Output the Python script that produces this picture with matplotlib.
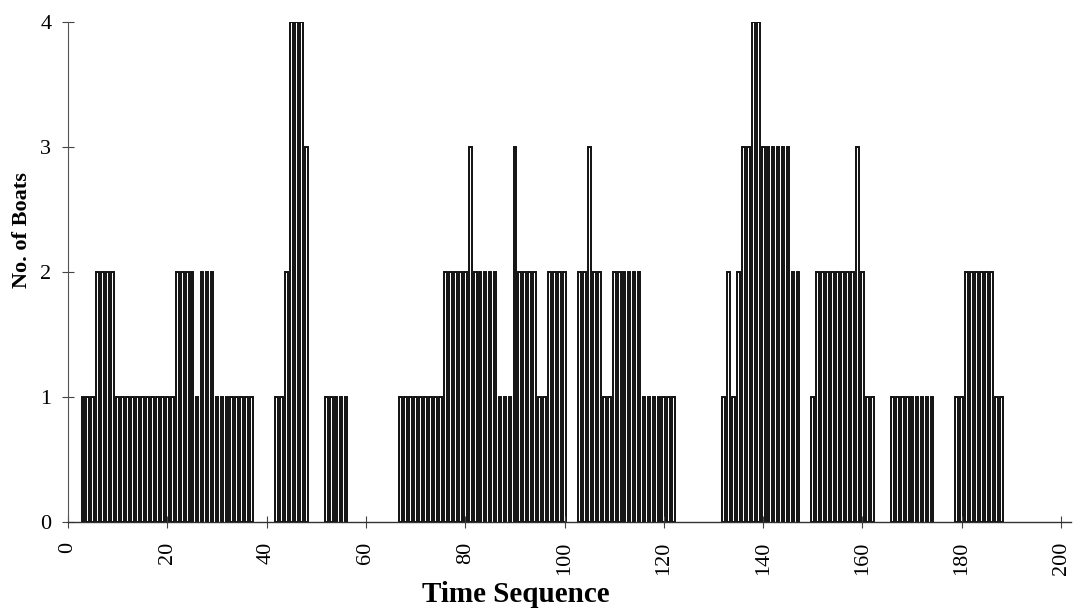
import numpy as np
import matplotlib as mpl
mpl.use('Agg')
import matplotlib.pyplot as plt

# number of boats in each time step (steps not listed are 0)
group_times = [
    list(range(3, 38)),
    list(range(42, 49)),
    list(range(52, 57)),
    list(range(67, 101)),
    list(range(103, 123)),
    list(range(132, 148)),
    list(range(150, 163)),
    list(range(166, 175)),
    list(range(179, 189)),
]
group_boats = [
    [1, 1, 1, 2, 2, 2, 2, 1, 1, 1, 1, 1, 1, 1, 1, 1, 1, 1, 1, 2, 2, 2, 2, 1, 2, 2, 2, 1, 1, 1, 1, 1, 1, 1, 1],
    [1, 1, 2, 4, 4, 4, 3],
    [1, 1, 1, 1, 1],
    [1, 1, 1, 1, 1, 1, 1, 1, 1, 2, 2, 2, 2, 2, 3, 2, 2, 2, 2, 2, 1, 1, 1, 3, 2, 2, 2, 2, 1, 1, 2, 2, 2, 2],
    [2, 2, 3, 2, 2, 1, 1, 2, 2, 2, 2, 2, 2, 1, 1, 1, 1, 1, 1, 1],
    [1, 2, 1, 2, 3, 3, 4, 4, 3, 3, 3, 3, 3, 3, 2, 2],
    [1, 2, 2, 2, 2, 2, 2, 2, 2, 3, 2, 1, 1],
    [1, 1, 1, 1, 1, 1, 1, 1, 1],
    [1, 1, 2, 2, 2, 2, 2, 2, 1, 1],
]
x_ticks = list(range(0, 201, 20))
y_ticks = [0, 1, 2, 3, 4]

time = np.concatenate([np.array(t) for t in group_times])
boats = np.concatenate([np.array(b) for b in group_boats])

plt.rcParams['font.family'] = ['Liberation Serif', 'DejaVu Serif']

fig = plt.figure(figsize=(10.79, 6.09), dpi=100)
ax = fig.add_axes([68 / 1079, 1 - 522 / 609, 1003 / 1079, 500 / 609])

ax.bar(time, boats, width=0.55, color='white', edgecolor='#111111', linewidth=1.4)

ax.set_xlim(0, 202)
ax.set_ylim(0, 4)
ax.set_xticks(x_ticks)
ax.set_yticks(y_ticks)
ax.set_xticklabels([str(v) for v in x_ticks], rotation=90, fontsize=16)
ax.set_yticklabels([str(v) for v in y_ticks], fontsize=16)
ax.tick_params(axis='both', direction='inout', length=8, width=0.8, color='#444444')
ax.tick_params(axis='y', pad=8)
ax.tick_params(axis='x', pad=10)

for side in ['top', 'right']:
    ax.spines[side].set_visible(False)
ax.spines['left'].set_color('#555555')
ax.spines['bottom'].set_color('#333333')
ax.spines['left'].set_linewidth(0.8)
ax.spines['bottom'].set_linewidth(1.0)

ax.set_xlabel('Time Sequence', fontsize=21, fontweight='bold', va='center')
ax.xaxis.set_label_coords(0.446, -0.146)
ax.set_ylabel('No. of Boats', fontsize=16, fontweight='bold', va='center')
ax.yaxis.set_label_coords(-0.046, 0.584)

plt.savefig('out.png', dpi=100)
